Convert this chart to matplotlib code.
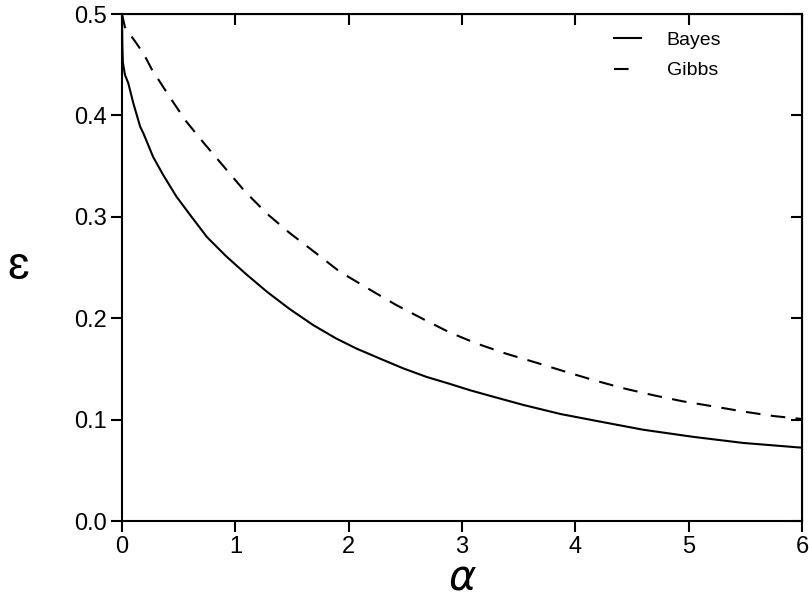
import matplotlib
matplotlib.use("Agg")
import matplotlib.pyplot as plt

plt.rcParams['font.family'] = ['Liberation Sans', 'DejaVu Sans']

# values
alpha_bayes = [0.0, 0.003, 0.008, 0.026, 0.055, 0.1, 0.16, 0.19, 0.275, 0.365, 0.48, 0.6,
               0.75, 0.92, 1.1, 1.28, 1.48, 1.69, 1.89, 2.07, 2.28, 2.48, 2.69, 2.87,
               3.07, 3.23, 3.54, 3.87, 4.22, 4.6, 5.04, 5.48, 6.0]
eps_bayes = [0.5, 0.47, 0.452, 0.44, 0.432, 0.412, 0.389, 0.382, 0.359, 0.341, 0.320, 0.302,
             0.280, 0.261, 0.243, 0.226, 0.209, 0.193, 0.180, 0.170, 0.160, 0.1506, 0.142, 0.136,
             0.129, 0.124, 0.1145, 0.1055, 0.098, 0.090, 0.083, 0.077, 0.0723]

alpha_gibbs = [0.0, 0.026, 0.115, 0.19, 0.26, 0.41, 0.56, 0.72, 0.91, 1.085, 1.28, 1.48,
               1.69, 1.92, 2.19, 2.42, 2.66, 2.89, 3.13, 3.39, 3.66, 3.92, 4.16, 4.42,
               4.69, 4.95, 5.22, 5.48, 5.75, 6.0]
eps_gibbs = [0.5, 0.487, 0.473, 0.461, 0.446, 0.42, 0.395, 0.373, 0.348, 0.325, 0.303, 0.284,
             0.266, 0.246, 0.228, 0.213, 0.199, 0.186, 0.175, 0.165, 0.156, 0.147, 0.139, 0.131,
             0.124, 0.118, 0.113, 0.108, 0.1035, 0.1006]

xticks = [0, 1, 2, 3, 4, 5, 6]
yticks = [0.0, 0.1, 0.2, 0.3, 0.4, 0.5]

fig = plt.figure(figsize=(8.09, 6.01), dpi=100)
ax = fig.add_axes([0.1508, 0.1331, 0.8405, 0.8436])

ax.plot(alpha_bayes, eps_bayes, color="black", lw=1.5, label="Bayes")
ax.plot(alpha_gibbs, eps_gibbs, color="black", lw=1.5, linestyle=(0, (7, 5)), label="Gibbs")

ax.set_xlim(0, 6)
ax.set_ylim(0, 0.5)
ax.set_xticks(xticks)
ax.set_xticklabels([str(v) for v in xticks])
ax.set_yticks(yticks)
ax.set_yticklabels([f"{v:.1f}" for v in yticks])
ax.tick_params(direction="out", length=8, width=1.5, labelsize=17, pad=3)
for sp in ax.spines.values():
    sp.set_linewidth(1.5)

# inward ticks on top and right
top = ax.secondary_xaxis("top")
top.set_xticks(xticks)
top.tick_params(direction="in", length=8, width=1.5, labeltop=False)
right = ax.secondary_yaxis("right")
right.set_yticks(yticks)
right.tick_params(direction="in", length=8, width=1.5, labelright=False)

ax.set_xlabel(r"$\alpha$", fontsize=30, labelpad=0)
fig.text(0.022, 0.555, "ɛ", fontsize=34, ha="center", va="center")

leg = ax.legend(loc="upper right", frameon=False, fontsize=14, handlelength=1.4,
                bbox_to_anchor=(0.907, 1.0), labelspacing=0.65, handletextpad=1.3)
# legend sample for Gibbs shows a single dash
leg.get_lines()[1].set_dashes([7, 30])

fig.savefig("out.png", dpi=100)
